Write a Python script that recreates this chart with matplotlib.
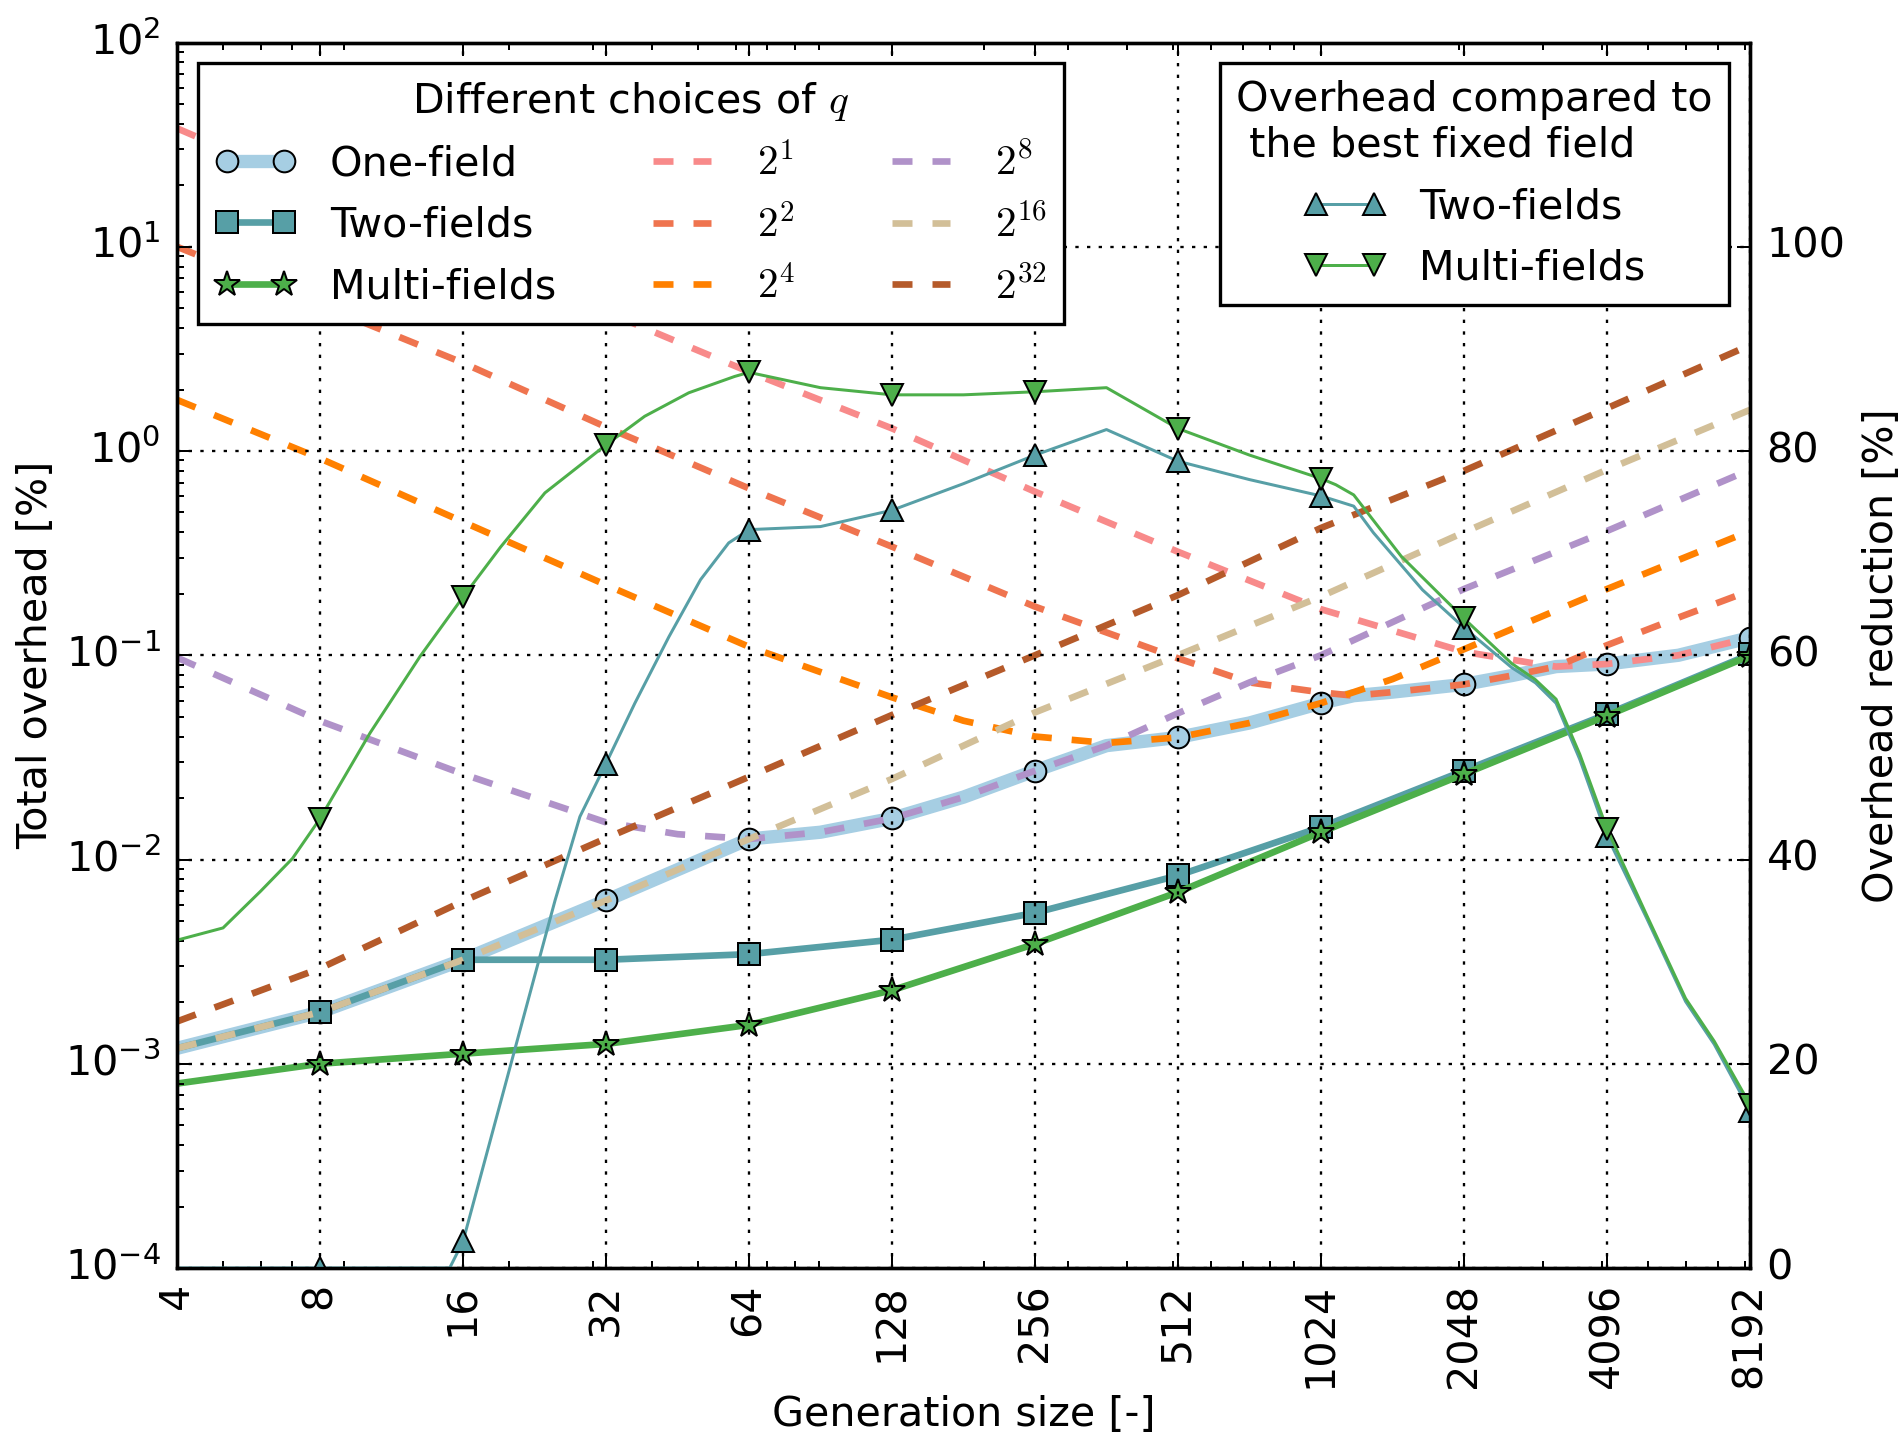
import numpy as np
import matplotlib
matplotlib.use('Agg')
import matplotlib.pyplot as plt
from matplotlib.ticker import FixedLocator, LogLocator, NullFormatter, FixedFormatter

# ---------------- data ----------------
gen_ticks = [4, 8, 16, 32, 64, 128, 256, 512, 1024, 2048, 4096, 8192]
gen_tick_labels = [str(v) for v in gen_ticks]
left_ticks = [1e-4, 1e-3, 1e-2, 1e-1, 1e0, 1e1, 1e2]
right_ticks = [0, 20, 40, 60, 80, 100]

# Total overhead [%]
x_one = [4, 8, 16, 32, 64, 90.5, 128, 181, 256, 362, 512, 724, 1024, 1200, 1448, 2048, 2580, 3200, 4096, 5793, 8192]
y_one = [1.19e-3, 1.79e-3, 3.23e-3, 6.3e-3, 0.0126, 0.0136, 0.0159, 0.0202, 0.0272, 0.0361, 0.0396, 0.0466,
         0.0583, 0.0634, 0.066, 0.0720, 0.0795, 0.088, 0.0906, 0.100, 0.122]

x_two = [4, 8, 16, 32, 64, 128, 256, 512, 1024, 2048, 4096, 8192]
y_two = [1.19e-3, 1.79e-3, 3.23e-3, 3.23e-3, 3.44e-3, 4.05e-3, 5.48e-3, 8.35e-3, 0.0144, 0.0272, 0.0515, 0.101]

x_multi = [4, 8, 16, 32, 64, 128, 256, 512, 1024, 2048, 4096, 8192]
y_multi = [8.0e-4, 1.0e-3, 1.12e-3, 1.25e-3, 1.55e-3, 2.29e-3, 3.86e-3, 6.92e-3, 0.0136, 0.0262, 0.0506, 0.0995]

# fixed fields q
x_q1 = [4, 8, 16, 32, 64, 128, 256, 512, 1024, 2048, 2896, 3200, 4096, 5793, 8192]
y_q1 = [38, 19.0, 9.5, 4.8, 2.44, 1.29, 0.632, 0.321, 0.168, 0.104, 0.091, 0.088, 0.0906, 0.100, 0.122]

x_q2 = [4, 8, 16, 32, 64, 128, 256, 512, 724, 1024, 1200, 1448, 2048, 2580, 3200, 4096, 5793, 8192]
y_q2 = [10.0, 5.2, 2.7, 1.31, 0.656, 0.34, 0.173, 0.0966, 0.0736, 0.0658, 0.0634, 0.066, 0.072, 0.0795, 0.088,
        0.112, 0.153, 0.207]

x_q4 = [4, 8, 16, 32, 64, 128, 181, 256, 362, 512, 724, 1024, 1448, 2048, 4096, 8192]
y_q4 = [1.78, 0.92, 0.45, 0.221, 0.110, 0.0622, 0.0478, 0.040, 0.0372, 0.0396, 0.0466, 0.0583, 0.0764, 0.107,
        0.211, 0.406]

x_q8 = [4, 8, 16, 32, 45.3, 64, 90.5, 128, 181, 256, 362, 512, 724, 1024, 2048, 4096, 8192]
y_q8 = [0.0974, 0.0477, 0.0262, 0.0152, 0.0133, 0.0126, 0.0136, 0.0159, 0.0202, 0.0272, 0.0361, 0.052, 0.0736,
        0.10, 0.211, 0.406, 0.81]

x_q16 = [4, 8, 16, 32, 64, 128, 256, 512, 1024, 2048, 4096, 8192]
y_q16 = [1.19e-3, 1.79e-3, 3.23e-3, 6.3e-3, 0.0126, 0.0248, 0.0525, 0.100, 0.194, 0.40, 0.81, 1.59]

x_q32 = [4, 8, 16, 32, 64, 128, 256, 512, 1024, 2048, 4096, 8192]
y_q32 = [1.61e-3, 2.93e-3, 6.25e-3, 0.0127, 0.0254, 0.051, 0.100, 0.197, 0.42, 0.80, 1.62, 3.3]

# Overhead reduction [%]
x_two_red = [4, 8, 15, 16, 20, 25, 28.2, 32, 36.8, 43.4, 50.6, 58, 64, 90.5, 128, 181, 256, 362, 512, 724,
             1024, 1200, 1320, 1675, 2048, 2580, 2896, 3200, 3590, 4096, 4970, 5994, 6889, 8192]
y_two_red = [0, 0, 0, 2.6, 19.3, 36, 44.2, 49.4, 55.3, 61.8, 67.4, 71.0, 72.3, 72.6, 74.2, 76.8, 79.6, 82.1,
             79.0, 77.2, 75.6, 74.6, 72.0, 66.4, 62.7, 58.8, 57.3, 55.3, 49.8, 42.3, 34.2, 26.1, 21.9, 15.4]

x_multi_red = [4, 5, 6, 7, 8, 10.2, 13, 16, 19.2, 23.8, 32, 38.6, 47.8, 59.7, 64, 90.5, 128, 181, 256, 362,
               512, 724, 1024, 1100, 1200, 1510, 2048, 2580, 2896, 3200, 3590, 4096, 4970, 5994, 6889, 8192]
y_multi_red = [32.1, 33.3, 36.9, 40.1, 44.0, 52.4, 59.9, 65.7, 70.6, 75.9, 80.6, 83.4, 85.7, 87.3, 87.7, 86.2,
               85.5, 85.5, 85.8, 86.2, 82.2, 79.6, 77.3, 76.7, 75.7, 69.7, 63.6, 59.2, 57.6, 55.7, 50.3, 43.0,
               34.5, 26.4, 22.2, 16.0]

q_labels = ['$2^{1}$', '$2^{2}$', '$2^{4}$', '$2^{8}$', '$2^{16}$', '$2^{32}$']
q_colors = ['#f88a8a', '#ef744f', '#ff8000', '#b092c9', '#d2bf98', '#b55a2a']

# ---------------- style ----------------
FS = 12.4
plt.style.use('classic')
plt.rcParams.update({
    'font.family': ['DejaVu Sans'],
    'font.size': FS,
    'legend.fontsize': FS,
    'axes.labelsize': FS,
    'xtick.labelsize': FS,
    'ytick.labelsize': FS,
    'mathtext.fontset': 'cm',
    'lines.scale_dashes': False,
    'figure.facecolor': 'white',
    'savefig.facecolor': 'white',
    'axes.unicode_minus': False,
})


def marks(xs):
    return [i for i, v in enumerate(xs) if v >= 8 and abs(np.log2(v) - round(np.log2(v))) < 1e-9]


W, H = 1902, 1441
fig = plt.figure(figsize=(W / 240, H / 240), dpi=240)
ax = fig.add_axes([177 / W, 1 - 1268 / H, (1750 - 177) / W, (1268 - 42.5) / H])
ax.set_xscale('log')
ax.set_yscale('log')

c_one, c_two, c_multi = '#a6cee3', '#579fa6', '#4daf4a'
mk = dict(ms=6.5, mec='k', mew=0.6)

ax.plot(x_one, y_one, color=c_one, lw=4, marker='o', mfc=c_one, markevery=marks(x_one), label='One-field', **mk)
ax.plot(x_two, y_two, color=c_two, lw=2, marker='s', mfc=c_two, markevery=marks(x_two), label='Two-fields', **mk)
ax.plot(x_multi, y_multi, color=c_multi, lw=2, marker='*', mfc=c_multi, markevery=marks(x_multi),
        label='Multi-fields', ms=8, mec='k', mew=0.6)

for xs, ys, lab, col in zip([x_q1, x_q2, x_q4, x_q8, x_q16, x_q32],
                            [y_q1, y_q2, y_q4, y_q8, y_q16, y_q32], q_labels, q_colors):
    ax.plot(xs, ys, color=col, lw=2, linestyle=(0, (6, 6)), label=lab)

ax.set_xlim(4, 8192)
ax.set_ylim(1e-4, 1e2)
ax.xaxis.set_major_locator(FixedLocator(gen_ticks))
ax.xaxis.set_major_formatter(FixedFormatter(gen_tick_labels))
ax.xaxis.set_minor_locator(LogLocator(base=10, subs=np.arange(2, 10)))
ax.xaxis.set_minor_formatter(NullFormatter())
ax.yaxis.set_major_locator(FixedLocator(left_ticks))
ax.yaxis.set_minor_locator(LogLocator(base=10, subs=np.arange(2, 10)))
ax.yaxis.set_minor_formatter(NullFormatter())
ax.yaxis.set_ticks_position('left')
ax.xaxis.set_ticks_position('both')
for lab in ax.get_xticklabels():
    lab.set_rotation(90)
ax.tick_params(axis='both', which='major', direction='in', length=4, width=0.6, pad=5)
ax.tick_params(axis='x', which='major', pad=4.5)
ax.tick_params(axis='both', which='minor', direction='in', length=2, width=0.6)
ax.grid(True, which='major', color='k', linestyle=(0, (1, 2.5)), linewidth=0.7)
ax.set_axisbelow(False)
ax.set_xlabel('Generation size [-]', labelpad=2)
ax.set_ylabel('Total overhead [%]', labelpad=2.5)

leg1 = ax.legend(loc='upper left', ncol=3, numpoints=2, fancybox=False, framealpha=1,
                 title='Different choices of $q$', labelspacing=0.52, columnspacing=2.05)
leg1.get_frame().set_edgecolor('k')
leg1.get_frame().set_linewidth(1.0)
leg1.get_title().set_fontsize(FS)

ax2 = ax.twinx()
ax2.plot(x_two_red, y_two_red, color=c_two, lw=0.9, marker='^', mfc=c_two, markevery=marks(x_two_red),
         label='Two-fields', **mk)
ax2.plot(x_multi_red, y_multi_red, color=c_multi, lw=0.9, marker='v', mfc=c_multi, markevery=marks(x_multi_red),
         label='Multi-fields', **mk)
ax2.set_ylim(0, 120)
ax2.set_xlim(4, 8192)
ax2.yaxis.set_major_locator(FixedLocator(right_ticks))
ax2.yaxis.set_minor_locator(FixedLocator([]))
ax2.tick_params(axis='y', which='major', direction='in', length=4, width=0.6, pad=5)
ax2.set_ylabel('Overhead reduction [%]')

leg2 = ax2.legend(loc='upper right', numpoints=2, fancybox=False, framealpha=1,
                  title='Overhead compared to\n the best fixed field', labelspacing=0.52)
leg2.get_frame().set_edgecolor('k')
leg2.get_frame().set_linewidth(1.0)
leg2.get_title().set_fontsize(FS)
leg2.get_title().set_multialignment('left')

fig.savefig('out.png', dpi=240)
